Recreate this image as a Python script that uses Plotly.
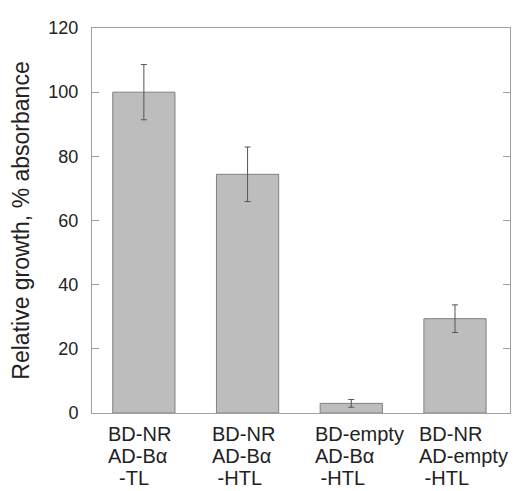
import plotly.graph_objects as go

categories = ["c1", "c2", "c3", "c4"]
label_lines = [
    ["BD-NR", "AD-Bα", "\u00a0\u00a0-TL"],
    ["BD-NR", "AD-Bα", "\u00a0-HTL"],
    ["BD-empty", "AD-Bα", "\u00a0-HTL"],
    ["BD-NR", "AD-empty", "\u00a0-HTL"],
]
values = [100.0, 74.4, 3.0, 29.4]
errors = [8.6, 8.5, 1.2, 4.3]
y_ticks = [0, 20, 40, 60, 80, 100, 120]

FONT = "Liberation Sans, Arial, sans-serif"
AXIS_COLOR = "#a0a0a0"

fig = go.Figure()
fig.add_trace(go.Bar(
    x=categories,
    y=values,
    marker=dict(color="#bdbdbd", line=dict(color="#808080", width=1)),
    error_y=dict(type="data", array=errors, visible=True,
                 color="#555555", thickness=1, width=3),
    width=0.6,
))

annotations = []
for cat, lines in zip(categories, label_lines):
    for i, line in enumerate(lines):
        annotations.append(dict(
            x=cat, xref="x", y=0, yref="y",
            text=line, showarrow=False,
            xanchor="left", yanchor="top",
            xshift=-38, yshift=-8 - 22 * i,
            font=dict(family=FONT, size=20, color="#222222"),
        ))

fig.update_layout(
    width=513, height=483,
    margin=dict(l=84, r=10, t=17, b=78),
    paper_bgcolor="white", plot_bgcolor="white",
    showlegend=False,
    font=dict(family=FONT, color="#222222"),
    annotations=annotations,
    xaxis=dict(
        showticklabels=False, ticks="", showgrid=False, zeroline=False,
        showline=True, linecolor=AXIS_COLOR, linewidth=1, mirror=True,
    ),
    yaxis=dict(
        range=[0, 120], tickvals=y_ticks,
        ticks="inside", ticklen=7, tickcolor=AXIS_COLOR, tickwidth=1,
        ticklabelstandoff=9,
        showgrid=False, zeroline=False,
        showline=True, linecolor=AXIS_COLOR, linewidth=1, mirror="ticks",
        tickfont=dict(family=FONT, size=18, color="#222222"),
        title=dict(text="Relative growth, % absorbance", standoff=12,
                   font=dict(family=FONT, size=23, color="#222222")),
    ),
)

fig.write_html("out.html")
